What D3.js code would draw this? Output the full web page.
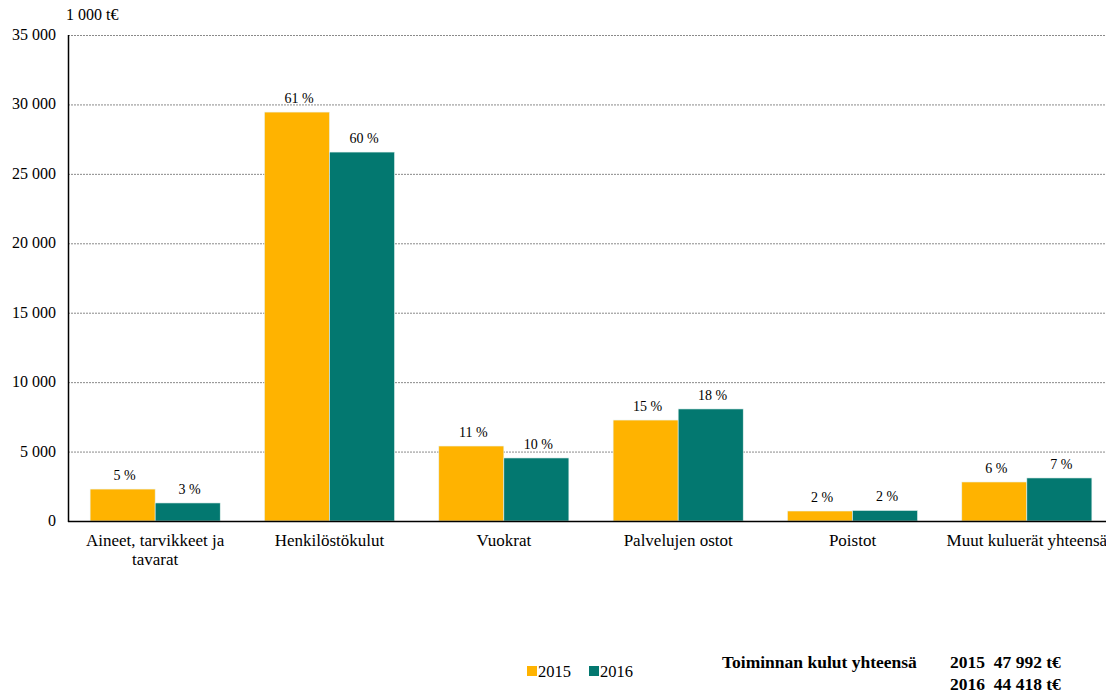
<!DOCTYPE html>
<html>
<head>
<meta charset="utf-8">
<script src="https://cdn.jsdelivr.net/npm/d3@7"></script>
<style>
  body { margin: 0; background: #fff; }
  text { font-family: "Liberation Serif", "Times New Roman", serif; fill: #000; }
</style>
</head>
<body>
<svg id="chart" width="1106" height="691"></svg>
<script>
// data (1 000 t€)
var categories = [["Aineet, tarvikkeet ja", "tavarat"], ["Henkilöstökulut"], ["Vuokrat"],
                  ["Palvelujen ostot"], ["Poistot"], ["Muut kuluerät yhteensä"]];
var years = ["2015", "2016"];
var values2015 = [2300, 29450, 5400, 7270, 720, 2810];
var values2016 = [1300, 26570, 4540, 8070, 760, 3100];
var shares2015 = ["5 %", "61 %", "11 %", "15 %", "2 %", "6 %"];
var shares2016 = ["3 %", "60 %", "10 %", "18 %", "2 %", "7 %"];
var yTicks = [0, 5000, 10000, 15000, 20000, 25000, 30000, 35000];
var totals = [["2015", "47 992 t€"], ["2016", "44 418 t€"]];
var colors = ["#FFB300", "#037870"];

var svg = d3.select("#chart");
var mLeft = 68, mTop = 35, mBottom = 521, mRight = 1114;

var x0 = d3.scaleBand().domain(d3.range(categories.length)).range([mLeft, mRight]);
var x1 = d3.scaleBand().domain(years).range([0, x0.bandwidth()]).paddingOuter(0.34).paddingInner(0);
var y = d3.scaleLinear().domain([0, 35000]).range([mBottom, mTop]);

var fmt = function(v) { return d3.format(",")(v).replace(/,/g, " "); };

// grid
svg.append("g").selectAll("line").data(yTicks.filter(function(d){ return d > 0; }))
  .join("line")
  .attr("x1", mLeft).attr("x2", 1106)
  .attr("y1", function(d){ return y(d) + 0.5; }).attr("y2", function(d){ return y(d) + 0.5; })
  .attr("stroke", "#8a8a8a").attr("stroke-width", 1).attr("stroke-dasharray", "2,1");

// y labels
svg.append("g").selectAll("text").data(yTicks).join("text")
  .attr("x", 56).attr("y", function(d){ return y(d) + 5; })
  .attr("text-anchor", "end").attr("font-size", 16)
  .text(fmt);

svg.append("text").attr("x", 66).attr("y", 20).attr("font-size", 16).text("1 000 t€");

// bars
var series = [values2015, values2016];
var shares = [shares2015, shares2016];
years.forEach(function(yr, s) {
  var g = svg.append("g");
  g.selectAll("rect").data(series[s]).join("rect")
    .attr("x", function(d, i){ return x0(i) + x1(yr); })
    .attr("y", function(d){ return y(d); })
    .attr("width", x1.bandwidth())
    .attr("height", function(d){ return mBottom - y(d); })
    .attr("fill", colors[s])
    .attr("stroke", "#e8f4f0").attr("stroke-width", 0.6);
  g.selectAll("text").data(series[s]).join("text")
    .attr("x", function(d, i){ return x0(i) + x1(yr) + x1.bandwidth() / 2 + 2; })
    .attr("y", function(d){ return y(d) - 9; })
    .attr("text-anchor", "middle").attr("font-size", 14)
    .text(function(d, i){ return shares[s][i]; });
});

// axes lines
svg.append("line").attr("x1", mLeft + 0.5).attr("x2", mLeft + 0.5).attr("y1", mTop).attr("y2", mBottom + 1)
  .attr("stroke", "#000").attr("stroke-width", 1.5);
svg.append("line").attr("x1", mLeft).attr("x2", 1106).attr("y1", mBottom + 0.5).attr("y2", mBottom + 0.5)
  .attr("stroke", "#000").attr("stroke-width", 1.5);

// category labels
svg.append("g").selectAll("text").data(categories).join("text")
  .attr("x", function(d, i){ return x0(i) + x0.bandwidth() / 2; })
  .attr("y", 546).attr("text-anchor", "middle").attr("font-size", 17)
  .each(function(d) {
    var t = d3.select(this);
    d.forEach(function(line, k) {
      t.append("tspan").attr("x", t.attr("x")).attr("dy", k === 0 ? 0 : 19).text(line);
    });
  });

// legend
var leg = svg.append("g").attr("transform", "translate(527,666)");
years.forEach(function(yr, s) {
  leg.append("rect").attr("x", s * 62).attr("y", 0).attr("width", 10).attr("height", 10).attr("fill", colors[s]);
  leg.append("text").attr("x", s * 62 + 11).attr("y", 11).attr("font-size", 16.5).text(yr);
});

// totals
svg.append("text").attr("x", 722).attr("y", 668).attr("font-size", 17.5).attr("font-weight", "bold")
  .text("Toiminnan kulut yhteensä");
totals.forEach(function(t, k) {
  svg.append("text").attr("x", 950).attr("y", 668 + k * 21.5).attr("font-size", 17.5).attr("font-weight", "bold")
    .attr("xml:space", "preserve").text(t[0] + "  " + t[1]);
});
</script>
</body>
</html>
